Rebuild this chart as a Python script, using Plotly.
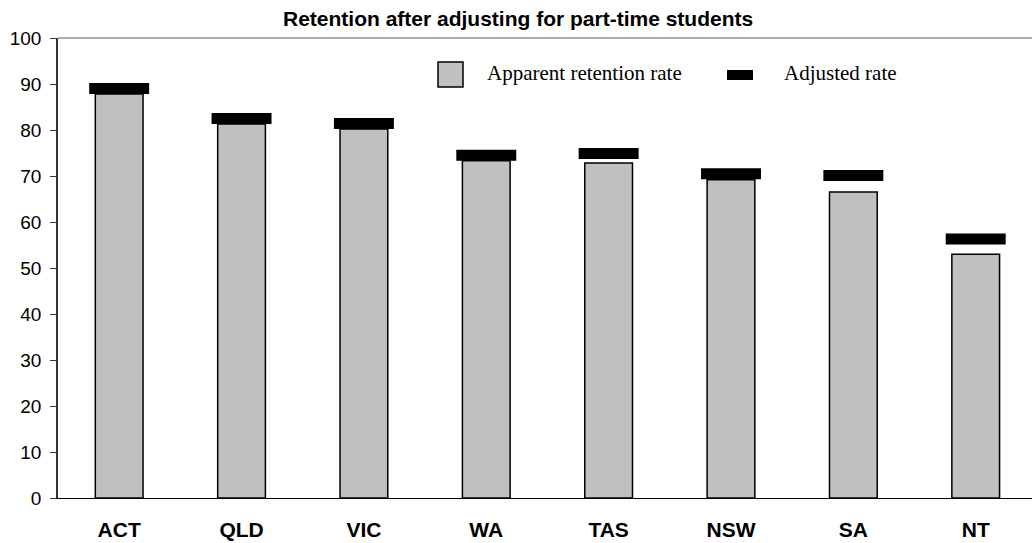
import plotly.graph_objects as go

states = ["ACT", "QLD", "VIC", "WA", "TAS", "NSW", "SA", "NT"]
apparent = [87.8, 81.3, 80.2, 73.3, 72.8, 69.2, 66.5, 53.0]
adjusted = [89.0, 82.5, 81.4, 74.5, 74.9, 70.5, 70.1, 56.3]
y_ticks = [0, 10, 20, 30, 40, 50, 60, 70, 80, 90, 100]

mark_h = 2.4

fig = go.Figure()
fig.add_trace(go.Bar(
    x=states, y=apparent, width=0.39,
    marker=dict(color="#c0c0c0", line=dict(color="black", width=1.5)),
    name="Apparent retention rate", showlegend=False,
))
fig.add_trace(go.Bar(
    x=states, y=[mark_h] * len(adjusted),
    base=[v - mark_h / 2 for v in adjusted], width=0.49,
    marker=dict(color="black", line=dict(color="black", width=0)),
    name="Adjusted rate", showlegend=False,
))

W, H = 1032, 543
L, R, T, B = 58, 0, 38, 45
pw, ph = W - L - R, H - T - B

def px(x):
    return (x - L) / pw

def py(y):
    return (H - B - y) / ph

fig.update_layout(
    width=W, height=H,
    margin=dict(l=L, r=R, t=T, b=B, autoexpand=False),
    barmode="overlay",
    plot_bgcolor="white", paper_bgcolor="white",
    font=dict(family="Liberation Sans, Arial", color="black"),
    xaxis=dict(
        range=[-0.5, 7.46], showline=True, linecolor="black", linewidth=1,
        ticks="", showgrid=False, ticklabelstandoff=13, automargin=False,
        tickfont=dict(size=21, family="Liberation Sans, Arial", weight="bold"),
    ),
    yaxis=dict(
        range=[0, 100], tickvals=y_ticks, showline=True, linecolor="#333333",
        linewidth=1.5, ticks="outside", ticklen=6, tickcolor="#333333",
        showgrid=False, zeroline=False, tickfont=dict(size=19), automargin=False,
        ticklabelstandoff=5,
    ),
    shapes=[
        dict(type="line", xref="paper", yref="paper", x0=0, x1=1, y0=1, y1=1,
             line=dict(color="#909090", width=1.5)),
        dict(type="rect", xref="paper", yref="paper",
             x0=px(438), x1=px(463), y0=py(87), y1=py(62),
             fillcolor="#c0c0c0", line=dict(color="black", width=1.5)),
        dict(type="rect", xref="paper", yref="paper",
             x0=px(727), x1=px(753), y0=py(80), y1=py(70),
             fillcolor="black", line=dict(color="black", width=0)),
    ],
    annotations=[
        dict(text="<b>Retention after adjusting for part-time students</b>",
             xref="paper", yref="paper", x=px(518), y=py(18),
             xanchor="center", yanchor="middle", showarrow=False,
             font=dict(size=21, family="Liberation Sans, Arial")),
        dict(text="Apparent retention rate", xref="paper", yref="paper",
             x=px(485), y=py(73), xanchor="left", yanchor="middle",
             showarrow=False, font=dict(size=21, family="Liberation Serif, Times New Roman")),
        dict(text="Adjusted rate", xref="paper", yref="paper",
             x=px(782), y=py(73), xanchor="left", yanchor="middle",
             showarrow=False, font=dict(size=21, family="Liberation Serif, Times New Roman")),
    ],
)

fig.write_html(
    "out.html",
    config={"displayModeBar": False},
    post_script="document.body.style.margin='0';document.body.style.overflow='hidden';",
)
